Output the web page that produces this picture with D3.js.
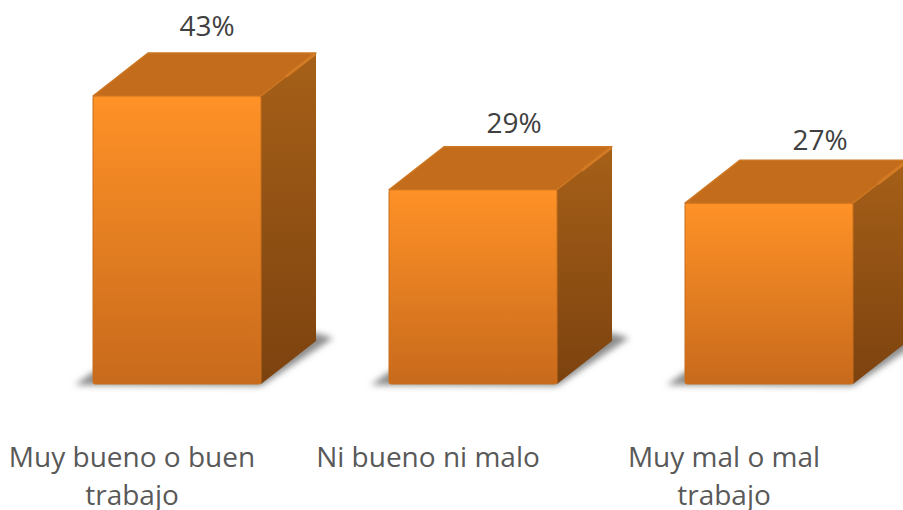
<!DOCTYPE html>
<html>
<head>
<meta charset="utf-8">
<script src="https://d3js.org/d3.v7.min.js"></script>
<style>
  html, body { margin: 0; background: #fff; }
  svg { display: block; }
  text { font-family: "Open Sans", sans-serif; font-size: 28px; }
  .value { fill: #404040; }
  .cat { fill: #595959; }
</style>
</head>
<body>
<svg></svg>
<script>
const categories = ['Muy bueno o buen trabajo', 'Ni bueno ni malo', 'Muy mal o mal trabajo'];
const values = [43, 29, 27];
const valueLabels = ['43%', '29%', '27%'];
const catLines = [['Muy bueno o buen', 'trabajo'], ['Ni bueno ni malo'], ['Muy mal o mal', 'trabajo']];

const WIDTH = 903, HEIGHT = 510;
const BASE_Y = 384;
const DEPTH_X = 55, DEPTH_Y = 43;
// label nudges, the original labels were not centred on the bars
const LABEL_DX = [30, 41, 51], LABEL_DY = [-17, -14, -10];

const svg = d3.select('svg').attr('width', WIDTH).attr('height', HEIGHT);
const defs = svg.append('defs');

const x = d3.scaleBand().domain(categories).range([29, 917])
    .paddingInner(0.4324).paddingOuter(0.2162);
const y = d3.scaleLinear().domain([0, 43]).range([BASE_Y, 96]);
const w = x.bandwidth();

function grad(id, top, bottom) {
    const g = defs.append('linearGradient').attr('id', id)
        .attr('x1', 0).attr('y1', 0).attr('x2', 0).attr('y2', 1);
    g.append('stop').attr('offset', '0%').attr('stop-color', top);
    g.append('stop').attr('offset', '100%').attr('stop-color', bottom);
}
grad('front', '#ff9227', '#c86a1c');
grad('side', '#a66018', '#7c420f');

defs.append('filter').attr('id', 'blur').attr('x', '-20%').attr('y', '-100%')
    .attr('width', '140%').attr('height', '300%')
    .append('feGaussianBlur').attr('stdDeviation', 3);

const bars = svg.selectAll('.bar').data(categories).enter()
    .append('g').classed('bar', true);

// FLOOR SHADOW
bars.append('path')
    .attr('d', d => {
        const l = x(d);
        return `M${l - 18},${BASE_Y + 1} L${l + w},${BASE_Y + 2} L${l + w + DEPTH_X + 17},${BASE_Y - DEPTH_Y - 3} L${l + w + DEPTH_X},${BASE_Y - DEPTH_Y - 8} L${l},${BASE_Y - 12} Z`;
    })
    .attr('fill', '#8c8c8c')
    .attr('filter', 'url(#blur)');

// SIDE FACE
bars.append('path')
    .attr('d', (d, i) => {
        const r = x(d) + w, t = y(values[i]);
        return `M${r},${t} L${r + DEPTH_X},${t - DEPTH_Y} L${r + DEPTH_X},${BASE_Y - DEPTH_Y} L${r},${BASE_Y} Z`;
    })
    .attr('fill', 'url(#side)');

// TOP FACE
bars.append('path')
    .attr('d', (d, i) => {
        const l = x(d), t = y(values[i]);
        return `M${l},${t} L${l + DEPTH_X},${t - DEPTH_Y} L${l + w + DEPTH_X},${t - DEPTH_Y} L${l + w},${t} Z`;
    })
    .attr('fill', '#c26c1c')
    .attr('stroke', '#cd7722')
    .attr('stroke-width', 1.5)
    .attr('stroke-linejoin', 'round');

// lighter bevel where the top meets the side
bars.append('line')
    .attr('x1', d => x(d) + w + DEPTH_X * 0.45)
    .attr('y1', (d, i) => y(values[i]) - DEPTH_Y * 0.45)
    .attr('x2', d => x(d) + w + DEPTH_X - 1)
    .attr('y2', (d, i) => y(values[i]) - DEPTH_Y + 1)
    .attr('stroke', '#d27a24')
    .attr('stroke-width', 3);

// FRONT FACE
bars.append('rect')
    .attr('x', d => x(d))
    .attr('y', (d, i) => y(values[i]))
    .attr('width', w)
    .attr('height', (d, i) => BASE_Y - y(values[i]))
    .attr('rx', 2)
    .attr('fill', 'url(#front)')
    .attr('stroke', '#c8701f')
    .attr('stroke-width', 1);

// VALUE LABELS
bars.append('text')
    .classed('value', true)
    .attr('x', (d, i) => x(d) + w / 2 + LABEL_DX[i])
    .attr('y', (d, i) => y(values[i]) - DEPTH_Y + LABEL_DY[i])
    .attr('text-anchor', 'middle')
    .text((d, i) => valueLabels[i]);

// CATEGORY LABELS
bars.append('text')
    .classed('cat', true)
    .attr('text-anchor', 'middle')
    .selectAll('tspan')
    .data((d, i) => catLines[i].map(line => ({ line, cx: x(d) + w / 2 - 45 })))
    .enter()
    .append('tspan')
    .attr('x', t => t.cx)
    .attr('y', (t, i) => 467 + i * 38)
    .text(t => t.line);
</script>
</body>
</html>
